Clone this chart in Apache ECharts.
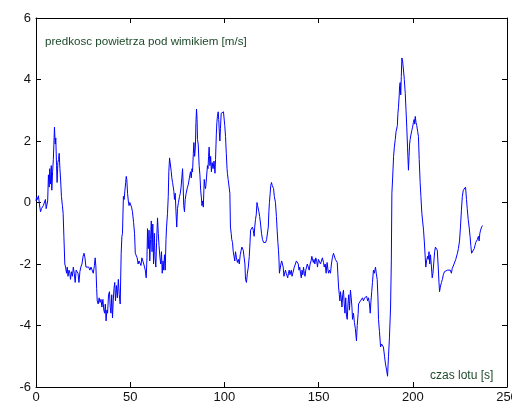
<!DOCTYPE html>
<html><head><meta charset="utf-8">
<script src="https://cdn.jsdelivr.net/npm/echarts@6/dist/echarts.min.js"></script>
<style>html,body{margin:0;padding:0;background:#fff}#c{width:512px;height:403px}</style>
</head><body><div id="c"></div>
<script>
// time [s]
const time = [0.0,0.3,0.8,1.3,1.8,2.4,2.9,3.4,3.9,4.4,5.0,5.4,5.8,6.2,6.6,7.0,7.3,7.7,8.1,8.4,8.8,9.2,9.5,9.8,10.2,10.5,10.9,11.2,11.6,12.0,12.3,12.7,13.1,13.5,14.0,14.4,14.8,15.3,15.7,16.2,16.6,17.0,17.5,18.0,18.3,18.8,19.3,19.8,20.3,20.8,21.3,21.8,22.3,22.8,23.3,23.8,24.4,25.0,25.5,26.0,26.5,27.0,27.5,28.0,28.6,29.2,29.8,30.4,31.0,31.4,31.8,32.2,32.5,33.0,33.5,34.0,34.5,35.0,35.5,36.0,36.4,36.8,37.2,37.6,38.0,38.5,39.0,39.4,39.8,40.2,40.6,41.0,41.4,41.8,42.2,42.7,43.2,43.7,44.2,44.7,45.2,45.6,45.9,46.4,46.8,47.2,47.6,47.9,48.2,48.6,49.0,49.4,49.8,50.3,50.7,51.2,51.8,52.3,52.7,53.2,53.7,54.2,54.7,55.2,55.7,56.2,56.7,57.2,57.6,58.0,58.5,58.9,59.2,59.6,60.0,60.4,60.8,61.2,61.6,62.0,62.4,62.8,63.2,63.6,64.0,64.5,64.9,65.3,65.8,66.2,66.6,67.0,67.4,67.8,68.2,68.6,69.0,69.3,69.8,70.2,70.5,70.9,71.4,71.8,72.1,72.5,72.9,73.2,73.5,73.9,74.3,74.7,75.1,75.6,76.2,76.6,77.0,77.4,77.8,78.1,78.4,78.8,79.2,79.7,80.1,80.4,80.9,81.4,82.0,82.4,82.8,83.1,83.5,83.8,84.2,84.6,84.9,85.2,85.5,85.7,86.1,86.6,87.0,87.4,87.8,88.1,88.4,88.8,89.3,89.6,90.0,90.5,91.0,91.3,91.6,91.9,92.3,92.7,93.1,93.5,94.0,94.5,95.0,95.3,95.7,96.0,96.3,96.7,97.0,97.3,97.6,97.9,98.3,98.7,99.1,99.5,99.9,100.2,100.6,101.0,101.4,101.6,102.0,102.5,102.9,103.2,103.6,103.9,104.3,104.7,105.1,105.5,105.9,106.4,106.9,107.4,107.9,108.4,108.9,109.3,109.6,110.0,110.5,110.9,111.2,111.7,112.2,112.7,113.2,113.6,113.9,114.3,114.6,114.9,115.3,115.8,116.1,116.5,116.9,117.3,117.6,117.9,118.3,118.7,119.2,119.7,120.2,120.8,121.3,121.9,122.4,122.9,123.3,123.6,123.9,124.3,124.6,125.0,125.4,125.8,126.1,126.5,127.1,127.6,128.0,128.4,128.7,129.0,129.2,129.6,130.0,130.4,130.8,131.2,131.6,132.0,132.4,132.8,133.2,133.6,134.0,134.4,134.8,135.1,135.5,135.9,136.3,136.7,137.1,137.7,138.2,138.8,139.2,139.6,140.0,140.4,140.8,141.2,141.6,142.0,142.4,142.8,143.2,143.6,144.0,144.5,145.0,145.5,146.0,146.4,146.8,147.2,147.6,148.0,148.5,149.0,149.4,149.9,150.4,151.0,151.5,152.0,152.6,153.0,153.5,154.0,154.5,155.0,155.3,155.8,156.3,156.8,157.3,157.9,158.4,158.9,159.4,159.9,160.2,160.6,161.0,161.3,161.6,162.0,162.4,162.8,163.2,163.6,164.0,164.4,164.8,165.2,165.6,166.0,166.4,166.9,167.3,167.7,168.0,168.5,169.0,169.5,170.1,170.5,171.0,171.2,171.7,172.2,172.8,173.3,173.8,174.4,175.0,175.5,176.0,176.5,177.0,177.4,177.8,178.2,178.6,179.1,179.6,180.2,180.6,181.1,181.5,181.8,182.3,182.9,183.4,183.9,184.4,185.0,185.5,186.1,186.6,187.1,187.6,188.2,188.6,188.9,189.3,189.8,190.2,190.7,191.1,191.5,191.8,192.1,192.4,192.8,193.0,193.3,193.6,193.9,194.2,194.6,195.1,195.5,196.0,196.4,196.8,197.2,197.7,198.0,198.3,198.6,199.0,199.5,199.9,200.3,200.7,201.0,201.3,201.7,202.1,202.6,203.0,203.4,203.9,204.3,204.8,205.2,205.7,206.2,206.6,206.9,207.3,207.8,208.2,208.6,209.0,209.4,209.9,210.3,210.7,211.2,211.6,212.0,212.5,213.0,213.5,213.9,214.2,214.6,215.2,215.7,216.2,216.8,217.3,217.8,218.4,218.9,219.4,219.9,220.5,220.9,221.4,221.9,222.4,222.8,223.2,223.7,224.2,224.8,225.3,225.8,226.3,226.8,227.3,227.7,228.0,228.3,228.5,228.9,229.4,229.9,230.4,230.8,231.2,231.7,232.1,232.6,233.0,233.4,233.8,234.3,234.8,235.2,235.6,236.0,236.5,237.0];
// air speed under the wing [m/s]
const speed = [0.05,0.18,0.1,0.22,-0.05,-0.3,-0.2,-0.25,-0.1,-0.15,0.1,-0.2,-0.25,0.05,0.9,0.5,1.1,0.6,1.2,0.4,1.0,1.4,1.9,2.45,1.9,2.1,1.2,0.65,1.3,1.4,1.6,1.1,0.7,0.2,-0.1,-0.35,-1.1,-2.0,-2.1,-2.3,-2.1,-2.4,-2.2,-2.3,-2.5,-2.25,-2.4,-2.1,-2.3,-2.6,-2.2,-2.15,-2.3,-2.6,-2.25,-2.1,-2.0,-1.75,-1.65,-1.8,-2.1,-2.15,-2.05,-2.1,-2.2,-2.1,-2.15,-2.3,-2.05,-1.8,-2.1,-2.8,-3.2,-3.3,-3.1,-3.25,-3.15,-3.4,-3.15,-3.5,-3.6,-3.3,-3.85,-3.5,-3.6,-3.0,-2.9,-3.4,-3.6,-3.0,-3.75,-3.2,-2.8,-2.6,-3.2,-2.7,-3.1,-2.5,-3.0,-3.3,-1.65,-1.1,-1.0,0.2,0.1,0.4,0.65,0.85,0.75,0.3,0.05,-0.1,0.0,-0.05,-0.15,-0.3,-0.65,-1.0,-1.65,-1.7,-1.8,-2.0,-1.9,-1.85,-2.05,-1.8,-1.75,-2.0,-2.1,-2.2,-2.45,-1.8,-0.85,-1.5,-0.9,-1.9,-1.2,-0.6,-1.6,-0.7,-2.0,-1.0,-1.8,-2.1,-1.3,-0.5,-1.0,-1.4,-1.8,-2.0,-1.6,-2.3,-1.9,-2.2,-1.7,-2.2,-1.2,-0.8,-0.35,0.2,1.0,1.45,1.5,1.0,0.8,0.65,0.6,0.35,0.1,0.3,-0.3,-0.8,-0.2,0.0,0.2,0.3,0.5,0.8,1.1,0.6,-0.1,-0.3,0.1,0.3,0.25,0.5,0.6,0.8,1.0,0.8,1.1,1.0,1.6,1.95,1.5,1.8,2.6,3.04,2.7,2.05,1.9,1.2,0.9,0.4,0.15,-0.1,0.05,-0.15,0.75,0.55,0.45,0.8,1.2,1.1,1.5,1.8,1.2,1.5,1.0,1.3,1.1,1.35,0.95,1.4,2.2,2.6,2.8,2.95,2.7,2.3,2.0,2.4,2.9,2.95,2.85,2.95,2.9,2.5,2.15,1.6,1.1,0.95,0.75,0.75,0.3,-0.8,-1.0,-1.2,-1.3,-1.6,-1.55,-1.9,-1.6,-1.8,-1.95,-1.85,-2.0,-1.7,-1.55,-1.45,-1.45,-1.55,-1.6,-2.0,-2.5,-2.6,-2.3,-2.1,-1.75,-1.3,-0.9,-0.85,-0.95,-0.8,-0.9,-1.1,-0.8,-0.55,-0.4,0.0,-0.1,-0.15,-0.3,-0.45,-0.7,-1.0,-1.2,-1.3,-1.25,-1.3,-1.2,-1.15,-0.8,-0.3,0.0,0.3,0.55,0.65,0.55,0.6,0.45,0.2,0.0,-0.45,-0.9,-1.3,-1.55,-1.9,-2.3,-2.25,-2.0,-1.9,-1.95,-2.1,-2.4,-2.35,-2.2,-2.3,-2.25,-2.45,-2.3,-2.2,-2.35,-2.3,-2.2,-2.4,-2.3,-2.25,-2.1,-2.0,-1.9,-1.85,-2.0,-2.2,-2.1,-2.3,-2.45,-2.2,-2.35,-2.1,-2.3,-2.4,-2.2,-2.1,-2.0,-2.05,-2.2,-2.0,-1.9,-1.75,-1.7,-1.95,-1.85,-2.0,-1.8,-1.9,-2.1,-1.85,-1.9,-2.0,-2.05,-1.8,-1.95,-2.1,-2.0,-2.3,-1.95,-2.2,-2.3,-2.2,-2.3,-2.0,-1.8,-1.65,-1.7,-1.85,-1.9,-1.95,-2.3,-2.75,-3.0,-3.2,-2.9,-3.1,-3.4,-3.0,-2.85,-3.3,-3.6,-3.1,-3.7,-3.8,-3.3,-3.0,-3.5,-2.85,-3.1,-3.4,-3.8,-3.6,-3.9,-4.1,-4.5,-4.0,-3.6,-3.3,-3.35,-3.2,-3.15,-3.1,-3.2,-3.1,-3.15,-3.05,-3.2,-3.1,-3.3,-3.6,-3.2,-2.9,-2.6,-2.2,-2.3,-2.1,-2.3,-2.5,-3.1,-3.8,-4.2,-4.7,-4.6,-4.55,-4.7,-5.0,-5.25,-5.45,-5.65,-5.0,-4.4,-3.4,-1.9,0.3,0.8,1.5,1.8,2.05,2.3,2.25,2.5,2.9,3.1,3.5,3.8,3.9,3.5,4.1,4.7,4.6,4.55,4.0,3.55,3.0,2.45,1.8,1.05,1.5,1.9,2.05,2.2,2.35,2.45,2.6,2.7,2.55,2.8,2.6,2.5,2.3,2.15,1.4,0.65,0.2,-0.35,-0.6,-0.9,-1.35,-1.8,-2.1,-1.9,-1.75,-1.85,-1.6,-2.0,-1.7,-2.1,-2.45,-2.3,-1.9,-1.6,-1.45,-1.4,-1.55,-2.1,-2.6,-2.9,-2.75,-2.6,-2.5,-2.35,-2.25,-2.2,-2.3,-2.2,-2.15,-2.25,-2.2,-2.3,-2.15,-2.1,-2.0,-1.95,-1.85,-1.8,-1.65,-1.5,-1.25,-0.8,-0.25,0.2,0.4,0.45,0.4,0.5,0.45,0.1,-0.2,-0.55,-0.8,-1.1,-1.4,-1.65,-1.7,-1.65,-1.5,-1.4,-1.3,-1.35,-1.2,-1.1,-1.25,-1.0,-0.9,-0.8,-0.75];
const xTicks = [0, 250, 50];   // min, max, step
const yTicks = [-6, 6, 2];
const yLabel = 'predkosc powietrza pod wimikiem [m/s]';
const xLabel = 'czas lotu [s]';

const pts = time.map((t, i) => [t, speed[i]]);
const chart = echarts.init(document.getElementById('c'), null, {renderer: 'canvas'});
const font = {fontFamily: 'Liberation Sans, Arial, sans-serif', fontSize: 13, color: '#111'};
const axisCommon = {
  axisLine: {show: true, onZero: false, lineStyle: {color: '#000', width: 1}},
  axisTick: {show: true, inside: true, length: 5, lineStyle: {color: '#000'}},
  splitLine: {show: false}
};
chart.setOption({
  animation: false,
  grid: {left: 36, right: 5, top: 18, bottom: 16, containLabel: false, outerBoundsMode: 'none'},
  xAxis: [
    Object.assign({type: 'value', position: 'bottom', min: xTicks[0], max: xTicks[1], interval: xTicks[2],
      axisLabel: Object.assign({margin: 4, showMaxLabel: true}, font)}, axisCommon),
    Object.assign({type: 'value', position: 'top', min: xTicks[0], max: xTicks[1], interval: xTicks[2],
      axisLabel: {show: false}}, axisCommon)
  ],
  yAxis: [
    Object.assign({type: 'value', position: 'left', min: yTicks[0], max: yTicks[1], interval: yTicks[2],
      axisLabel: Object.assign({margin: 5}, font)}, axisCommon),
    Object.assign({type: 'value', position: 'right', min: yTicks[0], max: yTicks[1], interval: yTicks[2],
      axisLabel: {show: false}}, axisCommon)
  ],
  series: [{
    type: 'line', data: pts, showSymbol: false, symbol: 'none',
    lineStyle: {color: '#0000ff', width: 1}, xAxisIndex: 0, yAxisIndex: 0
  }],
  graphic: [
    {type: 'text', left: 45, top: 36, style: {text: yLabel, fill: '#1e4a2a', font: '11.6px "Liberation Sans", Arial, sans-serif'}},
    {type: 'text', left: 430, top: 370, style: {text: xLabel, fill: '#1e4a2a', font: '12px "Liberation Sans", Arial, sans-serif'}}
  ]
});
</script>
</body></html>
